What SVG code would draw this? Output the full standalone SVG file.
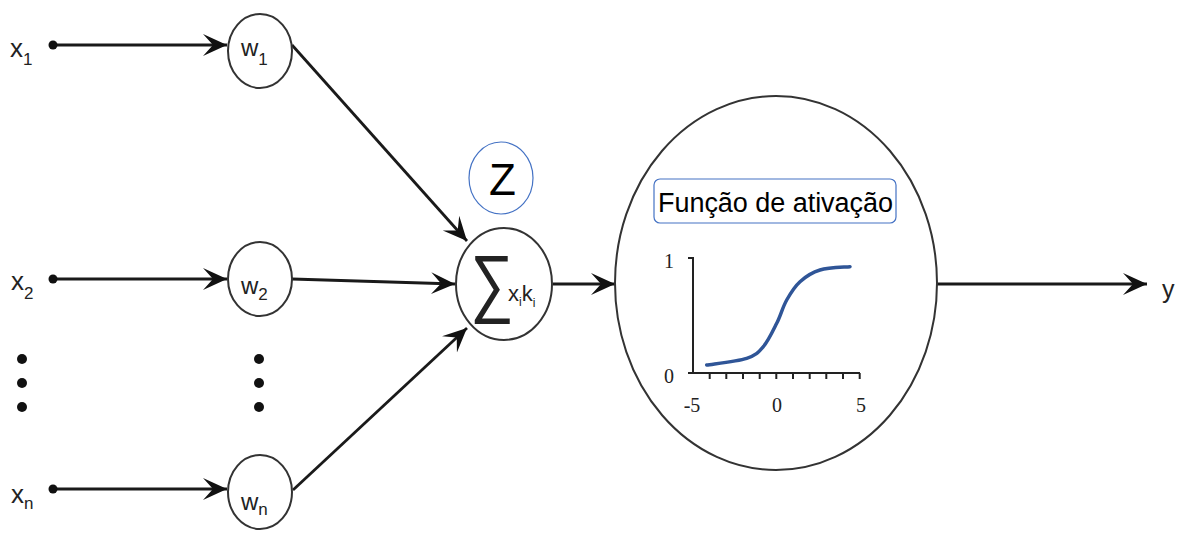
<svg xmlns="http://www.w3.org/2000/svg" width="1181" height="536" viewBox="0 0 1181 536">
<style>
.lbl{font-family:"Liberation Sans",Arial,sans-serif;fill:#222}
.ser{font-family:"Liberation Serif","Times New Roman",serif;fill:#222;font-size:20px;text-anchor:middle}
.node{fill:#fff;stroke:#333;stroke-width:2}
.conn{stroke:#1a1a1a;stroke-width:2.8;fill:none;marker-end:url(#ah)}
.dot{fill:#111}
</style>
<defs>
<marker id="ah" markerUnits="userSpaceOnUse" markerWidth="26" markerHeight="24" refX="24" refY="11" orient="auto" viewBox="0 0 26 24">
<path d="M0,0 L24,11 L0,22 L10,11 Z" fill="#111"/>
</marker>
</defs>
<rect width="1181" height="536" fill="#fff"/>

<g id="connectors">
<line class="conn" x1="53" y1="45" x2="227" y2="45"/>
<line class="conn" x1="53" y1="279" x2="227" y2="279"/>
<line class="conn" x1="53" y1="489" x2="227" y2="489"/>
<line class="conn" x1="292" y1="45" x2="467" y2="241"/>
<line class="conn" x1="292" y1="279" x2="455" y2="284"/>
<line class="conn" x1="293" y1="490" x2="467" y2="328"/>
<line class="conn" x1="553" y1="284" x2="615" y2="284"/>
<line class="conn" x1="937" y1="284" x2="1147" y2="284"/>
</g>

<g id="x1"><circle class="dot" cx="53" cy="45" r="4.5"/><text class="lbl" x="10" y="57" font-size="26">x<tspan font-size="17" dy="8">1</tspan></text></g>
<g id="x2"><circle class="dot" cx="53" cy="279" r="4.5"/><text class="lbl" x="11" y="290" font-size="26">x<tspan font-size="17" dy="9">2</tspan></text></g>
<g id="xn"><circle class="dot" cx="53" cy="489" r="4.5"/><text class="lbl" x="11" y="503" font-size="26">x<tspan font-size="17" dy="6">n</tspan></text></g>
<g id="dots-left"><circle class="dot" cx="22" cy="359" r="5"/><circle class="dot" cx="22" cy="383" r="5"/><circle class="dot" cx="22" cy="407" r="5"/></g>
<g id="dots-mid"><circle class="dot" cx="259" cy="359" r="5"/><circle class="dot" cx="259" cy="383" r="5"/><circle class="dot" cx="259" cy="407" r="5"/></g>

<g id="w1"><ellipse class="node" cx="260" cy="51" rx="32" ry="37"/><text class="lbl" x="241" y="56" font-size="24">w<tspan font-size="17" dy="9">1</tspan></text></g>
<g id="w2"><ellipse class="node" cx="260" cy="279" rx="32" ry="37"/><text class="lbl" x="241" y="294" font-size="24">w<tspan font-size="17" dy="6">2</tspan></text></g>
<g id="wn"><ellipse class="node" cx="260" cy="492" rx="32" ry="37"/><text class="lbl" x="241" y="510" font-size="24">w<tspan font-size="17" dy="5">n</tspan></text></g>

<g id="z"><ellipse cx="501" cy="178" rx="32" ry="36" fill="#fff" stroke="#4472C4" stroke-width="1.2"/><text x="502.5" y="195" font-size="44" text-anchor="middle" font-family="Liberation Sans,Arial,sans-serif" fill="#000">Z</text></g>

<g id="sum"><ellipse class="node" cx="504" cy="284" rx="48" ry="56"/>
<text class="lbl" x="470" y="307.5" font-size="76" textLength="43.5" lengthAdjust="spacingAndGlyphs">∑</text>
<text class="lbl" x="508" y="301" font-size="22">x<tspan font-size="12" dy="5">i</tspan><tspan dy="-5">k</tspan><tspan font-size="12" dy="6">i</tspan></text>
</g>

<g id="activation"><ellipse class="node" cx="776" cy="283" rx="161" ry="187"/>
<rect x="654" y="179" width="242" height="44" rx="6" fill="#fff" stroke="#4472C4" stroke-width="1.2"/>
<text x="658" y="212" font-size="27" font-family="Liberation Sans,Arial,sans-serif" fill="#000" textLength="235">Função de ativação</text>
<g stroke="#222" stroke-width="2" fill="none">
<path d="M688,258 H693 V373 M688,373 H860"/>
<path d="M709.7,373 v6 M726.3,373 v6 M743,373 v6 M759.7,373 v6 M776.3,373 v6 M793,373 v6 M809.7,373 v6 M826.3,373 v6 M843,373 v6 M859.7,373 v6"/>
</g>
<path d="M706.7,365 C713.4,363.9 737.3,361.35 746.7,358.3 C756.1,355.25 758.3,352.5 763.3,346.7 C768.3,340.9 772.8,331.1 776.7,323.3 C780.6,315.5 782.8,306.9 786.7,300 C790.6,293.1 794.45,286.7 800,281.7 C805.55,276.7 811.7,272.5 820,270 C828.3,267.5 845,267.25 850,266.7" fill="none" stroke="#2F5597" stroke-width="3.5" stroke-linecap="round"/>
<text class="ser" x="669" y="268">1</text>
<text class="ser" x="669" y="383">0</text>
<text class="ser" x="692" y="412">-5</text>
<text class="ser" x="777" y="412">0</text>
<text class="ser" x="861" y="412">5</text>
</g>

<g id="y"><text class="lbl" x="1162" y="298" font-size="25">y</text></g>
</svg>
